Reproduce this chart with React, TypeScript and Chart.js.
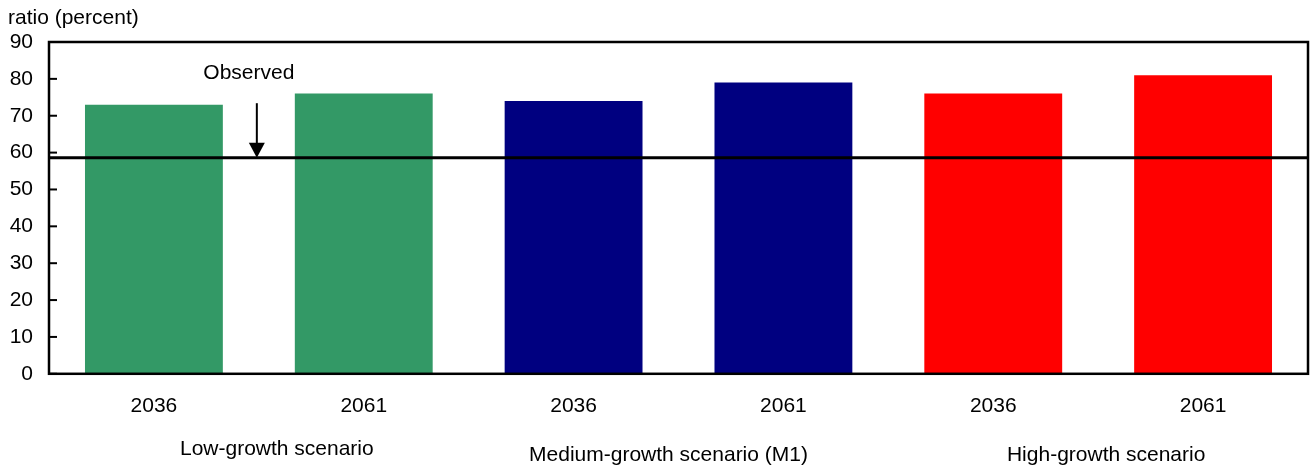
import React, { useEffect, useRef } from "react";
import { Chart, registerables } from "chart.js";

Chart.register(...registerables);

const categories = ["2036", "2061", "2036", "2061", "2036", "2061"];
const values = [73, 76, 74, 79, 76, 81];
const barColors = ["#339966", "#339966", "#000080", "#000080", "#FF0000", "#FF0000"];
const groupLabels = ["Low-growth scenario", "Medium-growth scenario (M1)", "High-growth scenario"];
const groupLabelOffsets = [18, -10, 8];
const groupLabelRows = [449, 455, 455];
const observedValue = 58.6;
const observedArrowTopValue = 73.4;
const observedLabelValue = 81.6;
const observedLabel = "Observed";
const yAxisTitle = "ratio (percent)";
const yMin = 0;
const yMax = 90;
const yStep = 10;

const FONT = "'Liberation Sans', Arial, Helvetica, sans-serif";
const FONT_SIZE = 21;

const overlay = {
  id: "overlay",
  afterDatasetsDraw(chart: any) {
    const { ctx, chartArea: a, scales } = chart;
    const x = scales.x;
    const y = scales.y;
    ctx.save();
    ctx.strokeStyle = "#000";
    ctx.fillStyle = "#000";

    // observed line
    const yo = y.getPixelForValue(observedValue);
    ctx.lineWidth = 3;
    ctx.beginPath();
    ctx.moveTo(a.left, yo);
    ctx.lineTo(a.right, yo);
    ctx.stroke();

    // arrow between first two bars
    const ax = (x.getPixelForValue(0) + x.getPixelForValue(1)) / 2 - 2;
    const ayTop = y.getPixelForValue(observedArrowTopValue);
    const headH = 15;
    const headW = 8;
    ctx.lineWidth = 2;
    ctx.beginPath();
    ctx.moveTo(ax, ayTop);
    ctx.lineTo(ax, yo - headH + 1);
    ctx.stroke();
    ctx.beginPath();
    ctx.moveTo(ax - headW, yo - headH);
    ctx.lineTo(ax + headW, yo - headH);
    ctx.lineTo(ax, yo);
    ctx.closePath();
    ctx.fill();

    // label
    ctx.font = `${FONT_SIZE}px ${FONT}`;
    ctx.textAlign = "center";
    ctx.textBaseline = "middle";
    ctx.fillText(observedLabel, ax - 8, y.getPixelForValue(observedLabelValue));

    // frame
    ctx.lineWidth = 2.5;
    ctx.strokeRect(a.left, a.top, a.right - a.left, a.bottom - a.top);

    // inner ticks on y axis
    ctx.lineWidth = 2;
    y.ticks.forEach((t: any) => {
      const py = y.getPixelForValue(t.value);
      ctx.beginPath();
      ctx.moveTo(a.left, py);
      ctx.lineTo(a.left + 8, py);
      ctx.stroke();
    });
    ctx.restore();
  },
  afterDraw(chart: any) {
    const { ctx, scales } = chart;
    const x = scales.x;
    ctx.save();
    ctx.fillStyle = "#000";
    ctx.font = `${FONT_SIZE}px ${FONT}`;
    ctx.textBaseline = "middle";
    ctx.textAlign = "left";
    ctx.fillText(yAxisTitle, 8, 18);
    ctx.textAlign = "center";
    groupLabels.forEach((g, i) => {
      const cx = (x.getPixelForValue(i * 2) + x.getPixelForValue(i * 2 + 1)) / 2 + groupLabelOffsets[i];
      ctx.fillText(g, cx, groupLabelRows[i]);
    });
    ctx.restore();
  },
};

export default function App() {
  const ref = useRef<HTMLCanvasElement | null>(null);
  useEffect(() => {
    document.body.style.margin = "0";
    if (!ref.current) return;
    const chart = new Chart(ref.current, {
      type: "bar",
      data: {
        labels: categories,
        datasets: [
          {
            data: values,
            backgroundColor: barColors,
            borderWidth: 0,
            barPercentage: 0.657,
            categoryPercentage: 1,
          },
        ],
      },
      options: {
        animation: false,
        responsive: false,
        maintainAspectRatio: false,
        layout: { padding: { top: 42, left: 0, right: 4, bottom: 29 } },
        plugins: { legend: { display: false }, tooltip: { enabled: false }, title: { display: false } },
        scales: {
          x: {
            grid: { display: false, drawTicks: false },
            border: { display: false },
            ticks: { color: "#000", font: { family: FONT, size: FONT_SIZE }, padding: 20, maxRotation: 0 },
          },
          y: {
            min: yMin,
            max: yMax,
            afterFit: (s: any) => {
              s.width = 49;
            },
            grid: { display: false, drawTicks: false },
            border: { display: false },
            ticks: { stepSize: yStep, color: "#000", font: { family: FONT, size: FONT_SIZE }, padding: 16 },
          },
        },
      },
      plugins: [overlay],
    });
    return () => chart.destroy();
  }, []);
  return (
    <div style={{ position: "absolute", left: 0, top: 0, width: 1312, height: 468 }}>
      <canvas ref={ref} width={1312} height={468} style={{ width: 1312, height: 468 }} />
    </div>
  );
}
